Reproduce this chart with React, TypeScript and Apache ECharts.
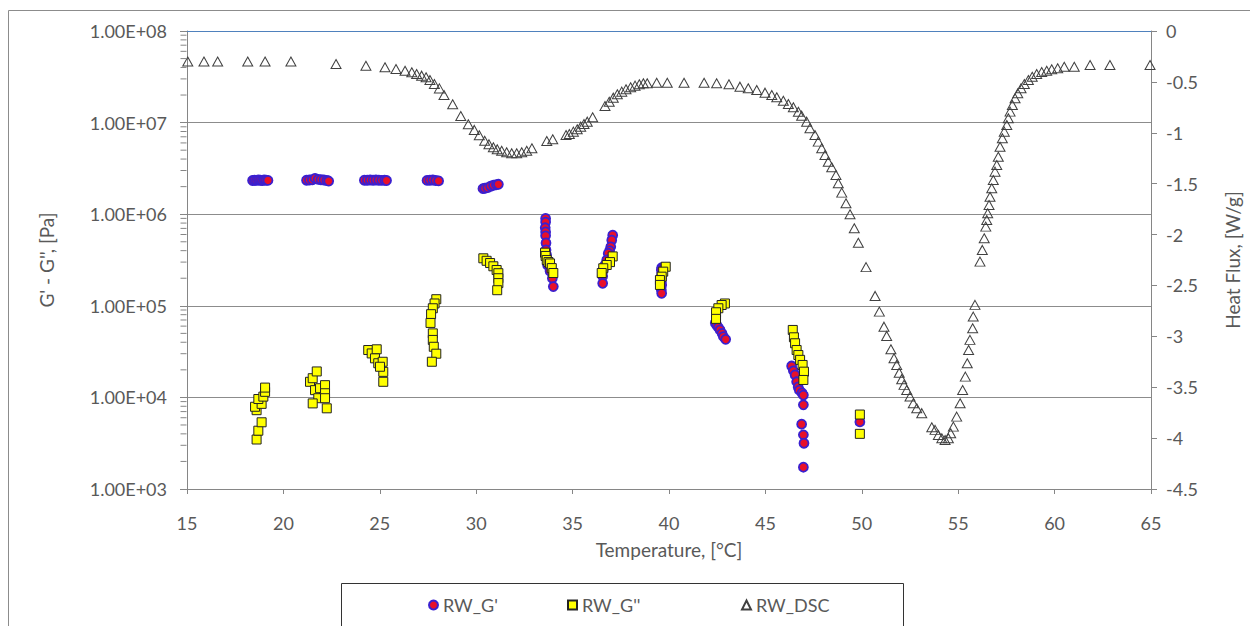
import React, { useEffect, useRef } from "react";
import * as echarts from "echarts";

const FONT = "Lato, 'Open Sans', sans-serif";
const TEXT = "#595959";
const AXIS = "#868686";

// Temperature range and tick labels
const xTicks = [15, 20, 25, 30, 35, 40, 45, 50, 55, 60, 65];
const heatFluxTicks = [0, -0.5, -1, -1.5, -2, -2.5, -3, -3.5, -4, -4.5];

// RW_G' [T °C, Pa]
const gPrime: [number, number][] = [
  [18.4, 2.33e6], [18.5, 2.35e6], [18.6, 2.34e6], [18.7, 2.36e6], [18.8, 2.35e6], [18.9, 2.33e6], [19.0, 2.36e6], [19.1, 2.35e6], [19.2, 2.34e6],
  [21.2, 2.35e6], [21.35, 2.36e6], [21.5, 2.38e6], [21.64, 2.46e6], [21.8, 2.4e6], [21.95, 2.38e6], [22.1, 2.36e6], [22.25, 2.33e6], [22.35, 2.3e6],
  [24.2, 2.35e6], [24.35, 2.35e6], [24.5, 2.36e6], [24.65, 2.35e6], [24.8, 2.36e6], [24.95, 2.35e6], [25.1, 2.34e6], [25.25, 2.35e6], [25.35, 2.33e6],
  [27.45, 2.34e6], [27.6, 2.35e6], [27.75, 2.36e6], [27.9, 2.33e6], [28.05, 2.31e6],
  [30.35, 1.9e6], [30.45, 1.92e6], [30.6, 1.95e6], [30.75, 2.02e6], [30.9, 2.07e6], [31.05, 2.1e6], [31.15, 2.12e6],
  [33.6, 9.0e5], [33.6, 8.2e5], [33.58, 7.1e5], [33.6, 6.4e5], [33.6, 5.8e5], [33.62, 4.85e5], [33.62, 4.07e5], [33.65, 3.6e5], [33.66, 3.3e5], [33.7, 2.79e5], [33.83, 2.4e5], [33.95, 2.0e5], [34.0, 1.62e5],
  [37.08, 5.9e5], [37.03, 5.2e5], [36.98, 4.4e5], [36.92, 4.0e5], [36.85, 3.74e5], [36.77, 3.16e5], [36.68, 2.8e5], [36.59, 2.46e5], [36.56, 2.1e5], [36.56, 1.76e5],
  [39.62, 2.6e5], [39.6, 2.46e5], [39.62, 2.2e5], [39.62, 2.0e5], [39.6, 1.82e5], [39.62, 1.69e5], [39.6, 1.5e5], [39.62, 1.37e5],
  [42.4, 6.5e4], [42.47, 6.17e4], [42.56, 5.8e4], [42.65, 5.45e4], [42.75, 5.0e4], [42.82, 4.6e4], [42.94, 4.3e4],
  [46.36, 2.2e4], [46.45, 1.95e4], [46.54, 1.76e4], [46.62, 1.48e4], [46.7, 1.3e4], [46.76, 1.2e4], [46.9, 1.12e4], [46.97, 1.06e4], [46.97, 8.3e3], [46.88, 5.1e3], [46.97, 3.9e3], [47.0, 3.16e3], [46.97, 1.73e3],
  [49.9, 5.4e3],
];

// RW_G'' [T °C, Pa]
const gDouble: [number, number][] = [
  [18.61, 3.47e3], [18.7, 4.33e3], [18.87, 5.35e3], [18.61, 7.25e3], [18.53, 7.9e3], [18.87, 8.5e3], [18.7, 9.6e3], [18.96, 1.02e4], [19.05, 1.15e4], [19.05, 1.28e4],
  [21.38, 1.48e4], [21.52, 1.62e4], [21.73, 1.92e4], [21.64, 1.2e4], [21.81, 9.8e3], [21.52, 8.6e3], [21.9, 1.26e4], [22.16, 1.36e4], [22.16, 1.11e4], [22.16, 9.8e3], [22.25, 7.6e3],
  [24.4, 3.29e4], [24.58, 3.02e4], [24.84, 3.35e4], [24.75, 2.67e4], [24.92, 2.36e4], [25.15, 2.45e4], [25.18, 1.9e4], [25.18, 1.48e4], [25.01, 2.16e4],
  [27.93, 1.18e5], [27.84, 1.06e5], [27.75, 9.4e4], [27.66, 8.1e4], [27.63, 6.5e4], [27.75, 5.0e4], [27.75, 4.24e4], [27.8, 3.57e4], [27.93, 3.0e4], [27.7, 2.45e4],
  [30.37, 3.3e5], [30.54, 3.1e5], [30.72, 2.93e5], [30.89, 2.7e5], [31.06, 2.46e5], [31.15, 2.27e5], [31.15, 2.0e5], [31.15, 1.77e5], [31.09, 1.48e5],
  [33.57, 3.8e5], [33.6, 3.5e5], [33.66, 3.16e5], [33.75, 3.0e5], [33.83, 2.9e5], [33.92, 2.58e5], [34.0, 2.28e5],
  [37.08, 3.46e5], [36.94, 3.0e5], [36.77, 2.79e5], [36.59, 2.57e5], [36.51, 2.28e5],
  [39.83, 2.67e5], [39.7, 2.36e5], [39.62, 2.08e5], [39.53, 1.91e5], [39.53, 1.69e5],
  [42.9, 1.06e5], [42.73, 1.02e5], [42.56, 9.4e4], [42.44, 8.5e4], [42.44, 7.2e4],
  [46.42, 5.45e4], [46.48, 4.53e4], [46.54, 3.9e4], [46.62, 3.29e4], [46.71, 2.9e4], [46.8, 2.57e4], [46.93, 2.26e4], [47.0, 1.91e4], [46.97, 1.55e4],
  [49.9, 6.5e3], [49.9, 4.0e3],
];

// RW_DSC [T °C, W/g]
const dsc: [number, number][] = [
  [15.04, -0.3], [15.88, -0.3], [16.59, -0.3], [18.15, -0.3], [19.05, -0.3], [20.39, -0.3], [22.73, -0.324], [24.28, -0.341],
  [25.27, -0.357], [25.84, -0.373], [26.31, -0.39], [26.66, -0.406], [26.91, -0.422], [27.17, -0.439], [27.4, -0.455], [27.6, -0.481],
  [27.83, -0.521], [28.09, -0.564], [28.33, -0.629], [28.78, -0.72], [29.2, -0.835], [29.59, -0.917], [29.9, -0.972], [30.16, -1.025],
  [30.44, -1.078], [30.66, -1.113], [30.89, -1.142], [31.09, -1.162], [31.32, -1.176], [31.58, -1.192], [31.84, -1.201], [32.1, -1.201],
  [32.36, -1.192], [32.62, -1.176], [32.89, -1.152], [33.66, -1.081], [33.97, -1.064], [34.66, -1.022], [34.83, -1.012], [35.04, -0.989],
  [35.24, -0.966], [35.42, -0.94], [35.59, -0.914], [35.76, -0.891], [36.04, -0.848], [36.68, -0.737], [36.9, -0.695], [37.11, -0.655],
  [37.32, -0.622], [37.55, -0.596], [37.77, -0.573], [38.01, -0.553], [38.24, -0.537], [38.46, -0.524], [38.67, -0.514], [38.87, -0.514],
  [39.36, -0.508], [39.91, -0.508], [40.78, -0.508], [41.82, -0.508], [42.47, -0.514], [43.11, -0.524], [43.68, -0.547], [44.11, -0.563],
  [44.55, -0.58], [44.98, -0.606], [45.33, -0.629], [45.59, -0.651], [45.93, -0.685], [46.19, -0.717], [46.45, -0.75], [46.71, -0.793],
  [46.88, -0.832], [47.14, -0.891], [47.31, -0.956], [47.57, -1.022], [47.74, -1.087], [47.92, -1.152], [48.09, -1.218], [48.26, -1.284],
  [48.44, -1.339], [48.66, -1.415], [48.78, -1.496], [48.96, -1.588], [49.18, -1.692], [49.39, -1.8], [49.61, -1.938], [49.82, -2.08],
  [50.22, -2.32], [50.69, -2.603], [50.91, -2.757], [51.15, -2.905], [51.29, -2.996], [51.51, -3.127], [51.67, -3.215], [51.81, -3.281],
  [51.94, -3.357], [52.07, -3.421], [52.19, -3.477], [52.33, -3.527], [52.5, -3.592], [52.67, -3.657], [52.85, -3.706], [53.11, -3.755],
  [53.63, -3.893], [53.8, -3.919], [53.97, -3.969], [54.15, -4.001], [54.32, -4.018], [54.49, -4.001], [54.61, -3.952], [54.75, -3.887],
  [54.92, -3.789], [55.1, -3.657], [55.23, -3.527], [55.37, -3.396], [55.47, -3.264], [55.54, -3.134], [55.61, -3.035], [55.75, -2.92],
  [55.78, -2.806], [55.87, -2.691], [56.13, -2.266], [56.25, -2.151], [56.35, -2.036], [56.43, -1.922], [56.48, -1.857], [56.53, -1.791],
  [56.6, -1.709], [56.65, -1.628], [56.74, -1.545], [56.82, -1.464], [56.91, -1.382], [57.0, -1.316], [57.08, -1.235], [57.17, -1.137],
  [57.29, -1.054], [57.39, -0.989], [57.52, -0.923], [57.6, -0.858], [57.69, -0.792], [57.81, -0.727], [57.95, -0.661], [58.09, -0.612],
  [58.26, -0.563], [58.43, -0.521], [58.64, -0.481], [58.84, -0.449], [59.07, -0.422], [59.33, -0.403], [59.59, -0.39], [59.85, -0.376],
  [60.16, -0.366], [60.5, -0.351], [61.02, -0.351], [61.84, -0.334], [62.87, -0.334], [64.95, -0.334],
];

// Minor tick values of the log axis
const minorMultipliers = [2, 3, 4, 5, 6, 7, 8, 9];
const decades = [1e3, 1e4, 1e5, 1e6, 1e7];

const fmtSci = (v: number) => {
  const e = Math.round(Math.log10(v));
  return "1.00E+" + (e < 10 ? "0" : "") + e;
};

export default function App() {
  const ref = useRef<HTMLDivElement>(null);

  useEffect(() => {
    if (!ref.current) return;
    const chart = echarts.init(ref.current, undefined, { renderer: "svg" });
    const minorTicks: [number, number][] = [];
    decades.forEach((d) => minorMultipliers.forEach((m) => minorTicks.push([xTicks[0], d * m])));

    const legendText = { color: TEXT, fontSize: 18, fontFamily: FONT };

    chart.setOption({
      animation: false,
      backgroundColor: "#ffffff",
      textStyle: { fontFamily: FONT },
      grid: { left: 187, right: 99, top: 31, bottom: 137, containLabel: false },
      graphic: [
        {
          type: "rect",
          shape: { x: 8.5, y: 10.5, width: 1300, height: 700 },
          style: { fill: "none", stroke: "#8c8c8c", lineWidth: 1 },
          silent: true,
          z: -10,
        },
        {
          type: "rect",
          shape: { x: 341.5, y: 583.5, width: 562, height: 80 },
          style: { fill: "#fff", stroke: "#333", lineWidth: 1 },
          silent: true,
          z: -5,
        },
      ],
      legend: [
        { data: ["RW_G'"], left: 428, top: 596, padding: 0, itemWidth: 9, itemHeight: 9, itemGap: 0, textStyle: legendText },
        { data: ["RW_G''"], left: 567, top: 596, padding: 0, itemWidth: 9, itemHeight: 9, itemGap: 0, textStyle: legendText },
        { data: ["RW_DSC"], left: 741, top: 596, padding: 0, itemWidth: 9, itemHeight: 9, itemGap: 0, textStyle: legendText },
      ],
      xAxis: [
        {
          type: "value",
          min: xTicks[0],
          max: xTicks[xTicks.length - 1],
          interval: 5,
          name: "Temperature, [°C]",
          nameLocation: "middle",
          nameGap: 51,
          nameTextStyle: { color: TEXT, fontSize: 19, fontFamily: FONT },
          axisLine: { show: true, onZero: false, lineStyle: { color: AXIS } },
          axisTick: { show: true, inside: false, length: 5, lineStyle: { color: AXIS } },
          axisLabel: { color: TEXT, fontSize: 18, fontFamily: FONT, margin: 25 },
          splitLine: { show: false },
        },
        {
          type: "value",
          position: "top",
          min: xTicks[0],
          max: xTicks[xTicks.length - 1],
          axisLine: { show: true, onZero: false, lineStyle: { color: "#4f81bd" } },
          axisTick: { show: false },
          axisLabel: { show: false },
          splitLine: { show: false },
        },
      ],
      yAxis: [
        {
          type: "log",
          logBase: 10,
          min: decades[0],
          max: 1e8,
          name: "G' - G'', [Pa]",
          nameLocation: "middle",
          nameGap: 131,
          nameRotate: 90,
          nameTextStyle: { color: TEXT, fontSize: 19, fontFamily: FONT },
          axisLine: { show: true, lineStyle: { color: AXIS } },
          axisTick: { show: true, inside: false, length: 7, lineStyle: { color: AXIS } },
          axisLabel: { color: TEXT, fontSize: 18, fontFamily: FONT, margin: 20, formatter: fmtSci },
          splitLine: { show: true, lineStyle: { color: "#8c8c8c", width: 1 } },
        },
        {
          type: "value",
          position: "right",
          min: heatFluxTicks[heatFluxTicks.length - 1],
          max: heatFluxTicks[0],
          interval: 0.5,
          name: "Heat Flux, [W/g]",
          nameLocation: "middle",
          nameGap: 72,
          nameRotate: 90,
          nameTextStyle: { color: TEXT, fontSize: 19, fontFamily: FONT },
          axisLine: { show: true, lineStyle: { color: AXIS } },
          axisTick: { show: true, inside: false, length: 6, lineStyle: { color: AXIS } },
          axisLabel: { color: TEXT, fontSize: 18, fontFamily: FONT, margin: 15 },
          splitLine: { show: false },
        },
      ],
      series: [
        {
          type: "scatter",
          name: "minorTicks",
          xAxisIndex: 0,
          yAxisIndex: 0,
          silent: true,
          clip: false,
          z: 10,
          symbol: "rect",
          symbolSize: [6, 1],
          symbolOffset: [-3.5, 0],
          itemStyle: { color: AXIS, borderWidth: 0, opacity: 1 },
          emphasis: { disabled: true },
          data: minorTicks,
        },
        {
          name: "RW_G'",
          type: "scatter",
          xAxisIndex: 0,
          yAxisIndex: 0,
          symbol: "circle",
          symbolSize: 9,
          data: gPrime,
          itemStyle: { color: "#e8102a", borderColor: "#3a20d0", borderWidth: 1.8, opacity: 1 },
          z: 3,
        },
        {
          name: "RW_G''",
          type: "scatter",
          xAxisIndex: 0,
          yAxisIndex: 0,
          symbol: "rect",
          symbolSize: 9,
          data: gDouble,
          itemStyle: { color: "#ffff00", borderColor: "#222", borderWidth: 1, opacity: 1 },
          z: 4,
        },
        {
          name: "RW_DSC",
          type: "scatter",
          xAxisIndex: 0,
          yAxisIndex: 1,
          symbol: "triangle",
          symbolSize: [10, 9],
          data: dsc,
          itemStyle: { color: "rgba(255,255,255,0)", borderColor: "#404040", borderWidth: 1, opacity: 1 },
          z: 5,
        },
      ],
    });
    return () => chart.dispose();
  }, []);

  return (
    <div
      ref={ref}
      style={{ position: "fixed", left: 0, top: 0, width: 1250, height: 626, background: "#fff" }}
    />
  );
}
